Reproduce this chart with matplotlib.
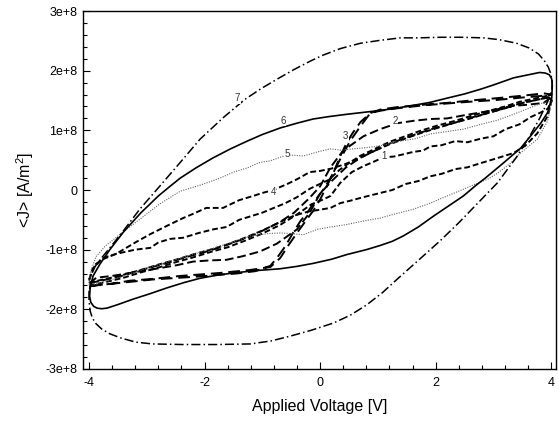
import matplotlib
matplotlib.use('Agg')
import matplotlib.pyplot as plt
from matplotlib.ticker import MultipleLocator, FuncFormatter
import numpy as np

plt.rcParams['font.family'] = ['Liberation Sans', 'DejaVu Sans']
plt.rcParams['mathtext.fontset'] = 'custom'
plt.rcParams['mathtext.rm'] = 'Liberation Sans'

# current density in units of 1e8 A/m^2
# each loop: forward sweep (-4 -> 4) then reverse sweep (4 -> -4)
v1 = [-4.00, -3.70, -3.40, -3.10, -2.80, -2.50, -2.20, -1.90, -1.60, -1.30, -1.00, -0.70, -0.40, -0.15,
      0.05, 0.18, 0.35, 0.55, 0.75, 0.92, 1.10, 1.27, 1.45, 1.62, 1.78, 1.91, 2.10, 2.34, 2.55, 2.78,
      3.00, 3.21, 3.45, 3.64, 3.82, 3.94, 4.01,
      3.94, 3.70, 3.46, 3.20, 2.94, 2.64, 2.34, 2.03, 1.73, 1.47, 1.21, 0.95, 0.69, 0.50, 0.34, 0.15,
      -0.05, -0.18, -0.40, -0.60, -0.80, -1.00, -1.20, -1.40, -1.62, -1.85, -2.10, -2.37, -2.60, -2.80,
      -2.94, -3.20, -3.53, -3.76, -3.94, -4.00]
j1 = [-1.60, -1.54, -1.47, -1.38, -1.30, -1.21, -1.13, -1.04, -0.96, -0.85, -0.73, -0.59, -0.41, -0.24,
      -0.16, -0.10, 0.12, 0.30, 0.40, 0.47, 0.55, 0.56, 0.60, 0.64, 0.66, 0.73, 0.75, 0.82, 0.80, 0.86,
      0.90, 1.02, 1.10, 1.22, 1.30, 1.36, 1.50,
      1.58, 1.53, 1.48, 1.40, 1.33, 1.25, 1.16, 1.08, 0.99, 0.90, 0.81, 0.69, 0.57, 0.45, 0.34, 0.17,
      0.08, 0.02, -0.12, -0.22, -0.30, -0.38, -0.44, -0.50, -0.62, -0.66, -0.72, -0.80, -0.82, -0.88,
      -0.97, -1.00, -1.07, -1.14, -1.32, -1.52]

v2 = [-4.00, -3.87, -3.60, -3.35, -2.90, -2.48, -2.20, -1.91, -1.62, -1.34, -1.04, -0.75, -0.40, -0.18,
      0.00, 0.20, 0.45, 0.70, 0.95, 1.21, 1.47, 1.73, 2.03, 2.34, 2.64, 2.94, 3.20, 3.46, 3.70, 3.94, 4.01,
      3.87, 3.60, 3.35, 2.90, 2.48, 2.20, 1.91, 1.62, 1.34, 1.04, 0.75, 0.40, 0.18, 0.00, -0.20, -0.45,
      -0.70, -0.95, -1.21, -1.47, -1.73, -2.03, -2.34, -2.64, -2.94, -3.20, -3.46, -3.70, -3.94, -4.00]
j2 = [-1.56, -1.47, -1.44, -1.40, -1.33, -1.26, -1.20, -1.18, -1.17, -1.11, -1.03, -0.90, -0.66, -0.38,
      -0.06, 0.15, 0.38, 0.54, 0.66, 0.78, 0.87, 0.96, 1.05, 1.13, 1.22, 1.30, 1.37, 1.45, 1.50, 1.55, 1.56,
      1.46, 1.43, 1.41, 1.32, 1.25, 1.20, 1.19, 1.16, 1.12, 1.02, 0.90, 0.66, 0.38, 0.06, -0.15, -0.38,
      -0.54, -0.66, -0.78, -0.87, -0.96, -1.05, -1.13, -1.22, -1.30, -1.37, -1.45, -1.50, -1.55, -1.56]

v3 = [-4.00, -3.60, -3.29, -2.90, -2.42, -2.00, -1.73, -1.21, -0.86, -0.69, -0.55, -0.40, -0.25, -0.12,
      0.00, 0.12, 0.25, 0.35, 0.45, 0.56, 0.70, 0.87, 1.05, 1.34, 1.80, 2.20, 2.60, 3.07, 3.50, 3.87, 4.01,
      3.87, 3.50, 3.07, 2.60, 2.20, 1.80, 1.34, 1.05, 0.87, 0.70, 0.52, 0.35, 0.18, 0.05, -0.09, -0.20,
      -0.34, -0.47, -0.60, -0.74, -0.86, -1.12, -1.45, -1.73, -2.10, -2.42, -2.90, -3.29, -3.70, -4.00]
j3 = [-1.61, -1.57, -1.52, -1.49, -1.44, -1.41, -1.39, -1.34, -1.29, -1.14, -0.93, -0.72, -0.52, -0.35,
      -0.16, 0.07, 0.33, 0.57, 0.77, 0.95, 1.14, 1.29, 1.35, 1.39, 1.43, 1.46, 1.50, 1.54, 1.58, 1.62, 1.60,
      1.58, 1.55, 1.51, 1.48, 1.45, 1.42, 1.37, 1.33, 1.29, 1.07, 0.82, 0.52, 0.20, 0.00, -0.18, -0.35,
      -0.52, -0.72, -0.94, -1.13, -1.27, -1.36, -1.40, -1.42, -1.45, -1.47, -1.50, -1.54, -1.58, -1.61]

v4 = [-4.00, -3.70, -3.40, -3.10, -2.80, -2.50, -2.20, -1.90, -1.60, -1.30, -1.00, -0.70, -0.45, -0.20,
      0.00, 0.18, 0.35, 0.52, 0.75, 1.04, 1.25, 1.48, 1.70, 1.91, 2.10, 2.34, 2.55, 2.78, 2.95, 3.12,
      3.35, 3.55, 3.76, 3.94, 4.01,
      3.94, 3.70, 3.46, 3.20, 2.94, 2.64, 2.34, 2.03, 1.73, 1.47, 1.21, 0.95, 0.69, 0.45, 0.20, 0.00,
      -0.18, -0.40, -0.57, -0.81, -1.00, -1.16, -1.40, -1.68, -1.97, -2.20, -2.37, -2.65, -2.94, -3.20,
      -3.53, -3.76, -3.88, -4.00]
j4 = [-1.55, -1.49, -1.42, -1.34, -1.25, -1.17, -1.08, -1.00, -0.91, -0.80, -0.68, -0.54, -0.43, -0.36,
      -0.33, -0.30, -0.22, -0.18, -0.12, -0.05, 0.00, 0.10, 0.15, 0.23, 0.27, 0.35, 0.38, 0.45, 0.50, 0.55,
      0.62, 0.74, 0.95, 1.24, 1.50,
      1.55, 1.50, 1.45, 1.37, 1.30, 1.21, 1.13, 1.04, 0.95, 0.86, 0.77, 0.66, 0.54, 0.44, 0.36, 0.32,
      0.30, 0.18, 0.10, 0.00, -0.05, -0.10, -0.17, -0.30, -0.30, -0.40, -0.47, -0.60, -0.74, -0.88,
      -1.07, -1.16, -1.24, -1.50]

v5 = [-4.00, -3.46, -2.94, -2.34, -1.73, -1.21, -0.90, -0.69, -0.50, -0.29, -0.05, 0.18, 0.45, 0.75,
      1.04, 1.34, 1.62, 1.91, 2.20, 2.45, 2.69, 2.90, 3.07, 3.30, 3.47, 3.62, 3.76, 3.94, 4.01,
      3.82, 3.64, 3.35, 3.07, 2.78, 2.48, 2.20, 1.91, 1.65, 1.39, 1.04, 0.80, 0.58, 0.35, 0.18, 0.00,
      -0.29, -0.57, -0.86, -1.05, -1.26, -1.50, -1.73, -2.08, -2.42, -2.77, -3.12, -3.46, -3.72, -3.88,
      -3.98, -4.00]
j5 = [-1.61, -1.46, -1.29, -1.12, -0.94, -0.77, -0.73, -0.72, -0.73, -0.75, -0.66, -0.62, -0.58, -0.52,
      -0.47, -0.39, -0.32, -0.22, -0.10, 0.00, 0.10, 0.18, 0.28, 0.45, 0.62, 0.74, 0.85, 1.16, 1.49,
      1.45, 1.38, 1.27, 1.17, 1.10, 1.02, 0.98, 0.94, 0.86, 0.82, 0.74, 0.71, 0.69, 0.67, 0.69, 0.65,
      0.57, 0.59, 0.49, 0.46, 0.37, 0.30, 0.20, 0.08, -0.02, -0.23, -0.49, -0.74, -0.94, -1.12,
      -1.39, -1.61]

v6 = [-3.98, -3.99, -3.97, -3.92, -3.86, -3.78, -3.69, -3.50, -3.24, -2.95, -2.65, -2.35, -2.08, -1.80,
      -1.50, -1.10, -0.69, -0.40, -0.12, 0.20, 0.47, 0.80, 1.04, 1.25, 1.44, 1.70, 1.96, 2.22, 2.48,
      2.70, 2.86, 3.17, 3.47, 3.64, 3.82, 3.94, 4.01,
      4.02, 4.01, 3.97, 3.90, 3.80, 3.60, 3.35, 3.00, 2.78, 2.50, 2.20, 1.91, 1.62, 1.25, 0.92, 0.47,
      0.15, -0.12, -0.40, -0.69, -1.00, -1.26, -1.55, -1.85, -2.15, -2.42, -2.60, -2.80, -3.10, -3.40,
      -3.64, -3.81, -3.93, -3.98]
j6 = [-1.64, -1.78, -1.88, -1.95, -1.98, -1.99, -1.98, -1.92, -1.83, -1.74, -1.64, -1.55, -1.48, -1.43,
      -1.39, -1.35, -1.32, -1.28, -1.23, -1.16, -1.08, -1.00, -0.93, -0.86, -0.77, -0.62, -0.44, -0.27, -0.10,
      0.08, 0.20, 0.45, 0.70, 0.90, 1.12, 1.30, 1.54,
      1.75, 1.86, 1.93, 1.96, 1.97, 1.93, 1.88, 1.76, 1.69, 1.61, 1.54, 1.47, 1.42, 1.36, 1.32, 1.27,
      1.23, 1.19, 1.12, 1.04, 0.93, 0.82, 0.69, 0.54, 0.37, 0.20, 0.06, -0.10, -0.38, -0.70,
      -1.00, -1.24, -1.44, -1.64]

v7 = [-4.00, -4.00, -3.98, -3.94, -3.88, -3.78, -3.64, -3.45, -3.19, -2.90, -2.37, -1.80, -1.21, -0.85,
      -0.52, -0.15, 0.23, 0.52, 0.80, 1.08, 1.34, 1.70, 2.08, 2.40, 2.70, 3.07, 3.40, 3.64, 3.80, 3.92, 4.01,
      4.02, 3.99, 3.95, 3.88, 3.78, 3.62, 3.40, 3.10, 2.83, 2.45, 2.08, 1.70, 1.39, 1.05, 0.70, 0.35,
      0.05, -0.17, -0.45, -0.74, -1.02, -1.30, -1.68, -2.08, -2.37, -2.77, -3.12, -3.41, -3.64, -3.81,
      -3.93, -4.00]
j7 = [-1.69, -1.85, -2.03, -2.15, -2.24, -2.33, -2.41, -2.48, -2.55, -2.58, -2.59, -2.59, -2.58, -2.53,
      -2.45, -2.35, -2.23, -2.10, -1.93, -1.72, -1.49, -1.18, -0.85, -0.55, -0.25, 0.12, 0.55, 0.92, 1.20, 1.44, 1.66,
      1.83, 1.96, 2.06, 2.17, 2.28, 2.38, 2.46, 2.52, 2.55, 2.56, 2.56, 2.55, 2.55, 2.51, 2.46, 2.37,
      2.26, 2.16, 2.02, 1.86, 1.70, 1.52, 1.21, 0.85, 0.52, 0.07, -0.32, -0.69, -0.97, -1.17,
      -1.33, -1.52]

loop_names = ['1', '2', '3', '4', '5', '6', '7']
label_v = [1.10, 1.30, 0.44, -0.81, -0.57, -0.64, -1.43]
label_j = [0.57, 1.16, 0.90, -0.03, 0.60, 1.16, 1.54]

loops = [(v1, j1), (v2, j2), (v3, j3), (v4, j4), (v5, j5), (v6, j6), (v7, j7)]
styles = [
    dict(color='black', lw=1.4, ls=(0, (3, 1.5))),
    dict(color='black', lw=1.4, ls=(0, (4.5, 2))),
    dict(color='black', lw=1.4, ls=(0, (6, 3))),
    dict(color='black', lw=1.4, ls=(0, (3, 1.5))),
    dict(color='#666666', lw=0.8, ls=(0, (1, 1.2))),
    dict(color='black', lw=1.2, ls='-'),
    dict(color='black', lw=1.1, ls=(0, (6, 2, 1, 2))),
]

fig = plt.figure(figsize=(5.59, 4.22), dpi=100)
ax = fig.add_axes([0.1485, 0.1256, 0.8453, 0.8483])

for (v, j), st in zip(loops, styles):
    ax.plot(v, np.array(j) * 1e8, solid_joinstyle='round', **st)

for name, lv, lj in zip(loop_names, label_v, label_j):
    ax.text(lv, lj * 1e8, name, fontsize=7, color='#333333', ha='center', va='center',
            bbox=dict(facecolor='white', edgecolor='none', pad=0.3))

ax.set_xlim(-4.104, 4.076)
ax.set_ylim(-3e8, 3e8)
ax.xaxis.set_major_locator(MultipleLocator(2))
ax.xaxis.set_minor_locator(MultipleLocator(0.4))
ax.yaxis.set_major_locator(MultipleLocator(1e8))
ax.yaxis.set_minor_locator(MultipleLocator(2e7))
ax.yaxis.set_major_formatter(FuncFormatter(lambda y, p: '0' if abs(y) < 1 else '%de+8' % round(y / 1e8)))
ax.xaxis.set_major_formatter(FuncFormatter(lambda x, p: '%d' % round(x)))
ax.tick_params(which='both', direction='in', top=False, right=False, labelsize=9)
ax.tick_params(which='major', length=5, width=0.8)
ax.tick_params(which='minor', length=3, width=0.8)
ax.tick_params(axis='x', pad=6)
ax.tick_params(axis='y', pad=4)
for s in ax.spines.values():
    s.set_linewidth(1.0)

ax.set_xlabel('Applied Voltage [V]', fontsize=11.5, labelpad=7)
ax.set_ylabel('<J> [A/m$^2$]', fontsize=11.5, labelpad=7)

fig.savefig('out.png', dpi=100)
